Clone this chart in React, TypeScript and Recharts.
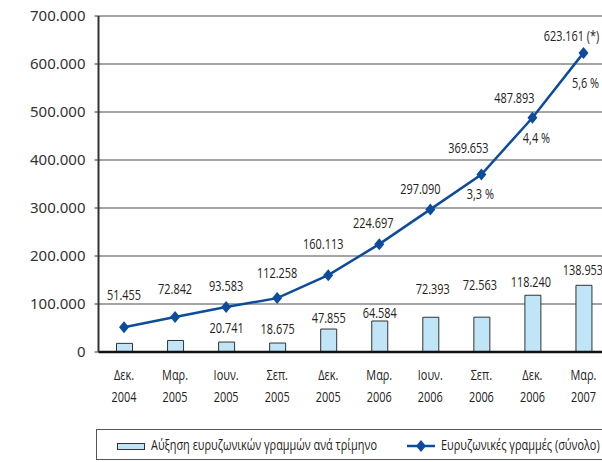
import React from "react";
import {
  ComposedChart,
  Bar,
  Line,
  XAxis,
  YAxis,
  CartesianGrid,
  LabelList,
} from "recharts";

const months = ["Δεκ.", "Μαρ.", "Ιουν.", "Σεπ.", "Δεκ.", "Μαρ.", "Ιουν.", "Σεπ.", "Δεκ.", "Μαρ."];
const years = ["2004", "2005", "2005", "2005", "2005", "2006", "2006", "2006", "2006", "2007"];
// quarterly growth of broadband lines (first two bars are unlabelled in the source)
const quarterlyGrowth = [18000, 24000, 20741, 18675, 47855, 64584, 72393, 72563, 118240, 138953];
const totalLines = [51455, 72842, 93583, 112258, 160113, 224697, 297090, 369653, 487893, 623161];
const showGrowthLabel = [false, false, true, true, true, true, true, true, true, true];
const totalSuffix = ["", "", "", "", "", "", "", "", "", " (*)"];
const penetration = ["", "", "", "", "", "", "", "3,3 %", "4,4 %", "5,6 %"];
const yTicks = [0, 100000, 200000, 300000, 400000, 500000, 600000, 700000];

// label nudges (dx, dy from the point / bar top), layout only
const totalNudge = [[0, -32], [0, -28], [0, -21], [0, -25], [-5, -31], [-6, -21], [-10, -20], [-13, -27], [-18, -20], [-12, -17]];
const growthNudge = [[0, -14], [0, -14], [0, -14], [0, -14], [0, -11], [0, -8], [2, -28], [-2, -32], [-2, -13], [-1, -15]];
const pctNudge = [[0, 0], [0, 0], [0, 0], [0, 0], [0, 0], [0, 0], [0, 0], [-1, 19], [4, 20], [2, 30]];

const data = months.map((m, i) => ({
  cat: `${m} ${years[i]}`,
  growth: quarterlyGrowth[i],
  total: totalLines[i],
}));

const FONT = '"Open Sans", "Noto Sans", sans-serif';
const SQUEEZE = 0.78;
const LINE_BLUE = "#0d4c9c";
const BAR_FILL = "#bfe5f6";

const fmt = (v: number) => String(v).replace(/\B(?=(\d{3})+(?!\d))/g, ".");

// condensed-looking text: the source uses a narrow face that is not installed
const NarrowText = ({ x, y, children }: any) => (
  <text
    transform={`translate(${x},${y}) scale(${SQUEEZE},1)`}
    textAnchor="middle"
    dominantBaseline="central"
    fontFamily={FONT}
    fontSize={14}
    fill="#222"
  >
    {children}
  </text>
);

const Diamond = (props: any) => {
  const { cx, cy } = props;
  if (cx == null || cy == null) return null;
  return (
    <polygon
      points={`${cx},${cy - 6} ${cx + 5},${cy} ${cx},${cy + 6} ${cx - 5},${cy}`}
      fill={LINE_BLUE}
    />
  );
};

const XTick = (props: any) => {
  const { x, y, index } = props;
  return (
    <g>
      <NarrowText x={x} y={y + 23}>{months[index]}</NarrowText>
      <NarrowText x={x} y={y + 45}>{years[index]}</NarrowText>
    </g>
  );
};

const TotalLabel = (props: any) => {
  const { x, y, index } = props;
  const [dx, dy] = totalNudge[index];
  return (
    <NarrowText x={x + dx} y={y + dy}>
      {fmt(totalLines[index]) + totalSuffix[index]}
    </NarrowText>
  );
};

const PctLabel = (props: any) => {
  const { x, y, index } = props;
  if (!penetration[index]) return null;
  const [dx, dy] = pctNudge[index];
  return <NarrowText x={x + dx} y={y + dy}>{penetration[index]}</NarrowText>;
};

const GrowthLabel = (props: any) => {
  const { x, y, width, index } = props;
  if (!showGrowthLabel[index]) return null;
  const [dx, dy] = growthNudge[index];
  return (
    <NarrowText x={x + width / 2 + dx} y={y + dy}>
      {fmt(quarterlyGrowth[index])}
    </NarrowText>
  );
};

const legendText: React.CSSProperties = {
  position: "absolute",
  top: 5,
  whiteSpace: "nowrap",
  transform: `scaleX(${SQUEEZE})`,
  transformOrigin: "left center",
};

export default function App() {
  return (
    <div
      style={{
        position: "absolute",
        left: 0,
        top: 0,
        width: 602,
        height: 462,
        overflow: "hidden",
        background: "#fff",
      }}
    >
      <ComposedChart
        width={620}
        height={462}
        data={data}
        margin={{ top: 16, right: 11, left: 0, bottom: 0 }}
      >
        <CartesianGrid vertical={false} stroke="#4a4a4a" strokeWidth={1} />
        <XAxis
          dataKey="cat"
          tick={<XTick />}
          tickLine={false}
          axisLine={{ stroke: "#111", strokeWidth: 2.5 }}
          interval={0}
          height={110}
          tickSize={0}
          tickMargin={0}
        />
        <YAxis
          domain={[0, 700000]}
          ticks={yTicks}
          width={98.5}
          tickFormatter={fmt}
          tickSize={4}
          tickMargin={9}
          tick={{ fontFamily: '"Noto Sans", sans-serif', fontSize: 15, fill: "#333" }}
          tickLine={{ stroke: "#333" }}
          axisLine={{ stroke: "#333", strokeWidth: 2 }}
        />
        <Bar
          dataKey="growth"
          barSize={16}
          fill={BAR_FILL}
          stroke="#333"
          strokeWidth={1}
          isAnimationActive={false}
        >
          <LabelList dataKey="growth" content={<GrowthLabel />} />
        </Bar>
        <Line
          dataKey="total"
          stroke={LINE_BLUE}
          strokeWidth={2.5}
          dot={<Diamond />}
          activeDot={false}
          isAnimationActive={false}
        >
          <LabelList dataKey="total" content={<TotalLabel />} />
          <LabelList dataKey="total" content={<PctLabel />} />
        </Line>
      </ComposedChart>

      <div
        style={{
          position: "absolute",
          left: 96,
          top: 429,
          width: 530,
          height: 31,
          border: "1px solid #555",
          boxSizing: "border-box",
          fontFamily: FONT,
          fontSize: 14,
          color: "#222",
        }}
      >
        <svg width={30} height={8} style={{ position: "absolute", left: 20, top: 13 }}>
          <rect x={0.5} y={0.5} width={27} height={6} fill={BAR_FILL} stroke="#333" />
        </svg>
        <span style={{ ...legendText, left: 54 }}>
          Αύξηση ευρυζωνικών γραμμών ανά τρίμηνο
        </span>
        <svg width={30} height={14} style={{ position: "absolute", left: 310, top: 9 }}>
          <line x1={0} y1={7} x2={28} y2={7} stroke={LINE_BLUE} strokeWidth={2.5} />
          <polygon points="14,1 19,7 14,13 9,7" fill={LINE_BLUE} />
        </svg>
        <span style={{ ...legendText, left: 344 }}>
          Ευρυζωνικές γραμμές (σύνολο)
        </span>
      </div>
    </div>
  );
}
